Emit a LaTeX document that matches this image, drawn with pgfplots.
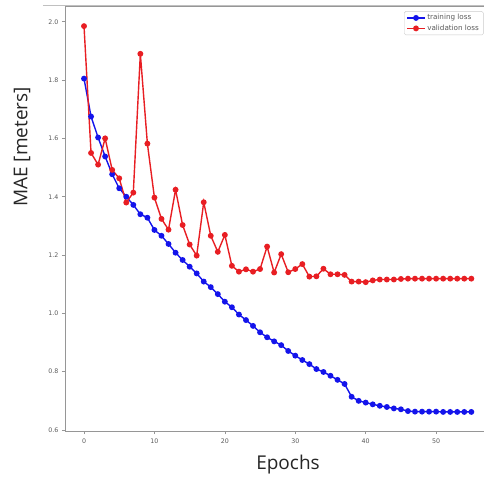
\documentclass[border=0pt]{standalone}
\usepackage{pgfplots}
\pgfplotsset{compat=1.18}
\usetikzlibrary{calc}
\usepackage{fontspec}
\setmainfont{DejaVu Sans}
\newfontfamily\labelfont{Open Sans}
\definecolor{trainblue}{RGB}{20,20,235}
\definecolor{valred}{RGB}{232,30,35}
\definecolor{spine}{RGB}{150,150,150}
\definecolor{ticktext}{RGB}{90,90,90}

\pgfplotstableread{
e v
0 1.985
1 1.550
2 1.510
3 1.600
4 1.492
5 1.463
6 1.380
7 1.414
8 1.890
9 1.582
10 1.397
11 1.324
12 1.287
13 1.424
14 1.303
15 1.236
16 1.198
17 1.381
18 1.266
19 1.211
20 1.269
21 1.163
22 1.143
23 1.151
24 1.143
25 1.152
26 1.229
27 1.140
28 1.203
29 1.141
30 1.152
31 1.169
32 1.126
33 1.127
34 1.153
35 1.134
36 1.134
37 1.132
38 1.109
39 1.109
40 1.107
41 1.113
42 1.116
43 1.116
44 1.116
45 1.118
46 1.119
47 1.119
48 1.119
49 1.119
50 1.119
51 1.119
52 1.119
53 1.119
54 1.119
55 1.119
}\valloss

\pgfplotstableread{
e t
0 1.805
1 1.675
2 1.603
3 1.538
4 1.477
5 1.429
6 1.400
7 1.372
8 1.340
9 1.328
10 1.286
11 1.266
12 1.238
13 1.208
14 1.183
15 1.160
16 1.137
17 1.109
18 1.090
19 1.066
20 1.040
21 1.021
22 0.996
23 0.977
24 0.957
25 0.935
26 0.918
27 0.904
28 0.891
29 0.871
30 0.855
31 0.840
32 0.826
33 0.809
34 0.799
35 0.786
36 0.772
37 0.758
38 0.714
39 0.700
40 0.694
41 0.688
42 0.683
43 0.679
44 0.674
45 0.671
46 0.665
47 0.663
48 0.663
49 0.663
50 0.663
51 0.662
52 0.662
53 0.662
54 0.662
55 0.662
}\trainloss

\begin{document}
\begin{tikzpicture}
\begin{axis}[
  name=ax,
  scale only axis,
  width=419pt, height=425pt,
  xmin=-2.7, xmax=56.8,
  ymin=0.5966, ymax=2.054,
  axis x line*=box,
  axis y line*=left,
  axis line style={spine, line width=0.8pt},
  xtick={0,10,20,30,40,50},
  ytick={0.6,0.8,1.0,1.2,1.4,1.6,1.8,2.0},
  yticklabel style={/pgf/number format/.cd, fixed, fixed zerofill, precision=1},
  /pgf/number format/assume math mode=true,
  tick align=outside,
  xtick pos=bottom, ytick pos=left,
  major tick length=3pt,
  tick style={spine, line width=0.6pt},
  ticklabel style={font=\fontsize{6.3}{7}\selectfont, text=ticktext},
  xticklabel style={yshift=-1pt},
  legend style={at={(axis cs:45.45,2.036)}, anchor=north west,
    font=\fontsize{7.2}{8.5}\selectfont, text=ticktext,
    draw=spine!50, rounded corners=1.5pt, inner xsep=2.5pt, inner ysep=1pt,
    row sep=-0.5pt, cells={anchor=west}},
  legend image post style={line width=1.4pt},
  legend cell align=left,
  clip=false,
]
\addplot[trainblue, line width=1.4pt, mark=*, mark size=2.2pt] table[x=e,y=t] {\trainloss};
\addlegendentry{training loss}
\addplot[valred, line width=1.4pt, mark=*, mark size=2.2pt] table[x=e,y=v] {\valloss};
\addlegendentry{validation loss}
\end{axis}
\begin{scope}[shift={(ax.south west)}, x=1pt, y=1pt]
\draw[spine!60, line width=0.8pt] (-22,426) -- (419,426);
\node[rotate=90, font=\labelfont\fontsize{19}{22}\selectfont, text=black!85] at (-43,284) {MAE [meters]};
\node[font=\labelfont\fontsize{19}{22}\selectfont, text=black!85] at (223,-34) {Epochs};
\end{scope}
\pgfresetboundingbox
\path[use as bounding box] ($(ax.south west)+(-65pt,-48pt)$) rectangle ($(ax.south west)+(419pt,431pt)$);
\end{tikzpicture}
\end{document}
